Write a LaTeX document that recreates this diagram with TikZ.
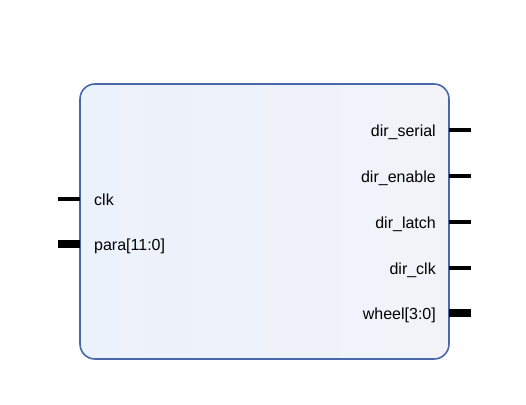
\documentclass[tikz,border=0pt]{standalone}
\usepackage{fontspec}
\setmainfont{Liberation Sans}
\usetikzlibrary{positioning}
\tikzset{>=stealth}
\definecolor{blockline}{RGB}{72,104,170}
\definecolor{fillA}{RGB}{236,242,251}
\definecolor{fillB}{RGB}{241,243,248}
\tikzset{
  pin/.style={line width=4.5pt},
  bus/.style={line width=7.5pt},
  lbl/.style={font=\fontsize{16}{19}\selectfont, inner sep=0pt},
}

\begin{document}
\begin{tikzpicture}[x=1pt,y=-1pt]
        \useasboundingbox (0,0) rectangle (526,404);
        \node[draw=blockline, line width=1.6pt, left color=fillA, right color=fillB,
              rounded corners=15pt, minimum width=369pt, minimum height=275pt,
              outer sep=0pt, anchor=north west] (top) at (80,84) {};

        % inputs
        \node[lbl, anchor=base west] (clk) at (94,205) {clk};
        \node[lbl, anchor=base west] (para) at (94,250) {para[11:0]};
        \coordinate (clkend) at (58,199);
        \coordinate (paraend) at (58,244);
        \draw[pin] (clkend) -- (clkend -| top.west);
        \draw[bus] (paraend) -- (paraend -| top.west);

        % outputs
        \foreach \txt/\y/\sty [count=\i] in {dir\_serial/130/pin, dir\_enable/176/pin,
                dir\_latch/222/pin, dir\_clk/268/pin, wheel[3:0]/313/bus}
        {\node[lbl, anchor=base east] (out\i) at (436,\y+6) {\txt};
        \coordinate (outend\i) at (471,\y);
        \draw[\sty] (outend\i -| top.east) -- (outend\i);
        }
\end{tikzpicture}
\end{document}
